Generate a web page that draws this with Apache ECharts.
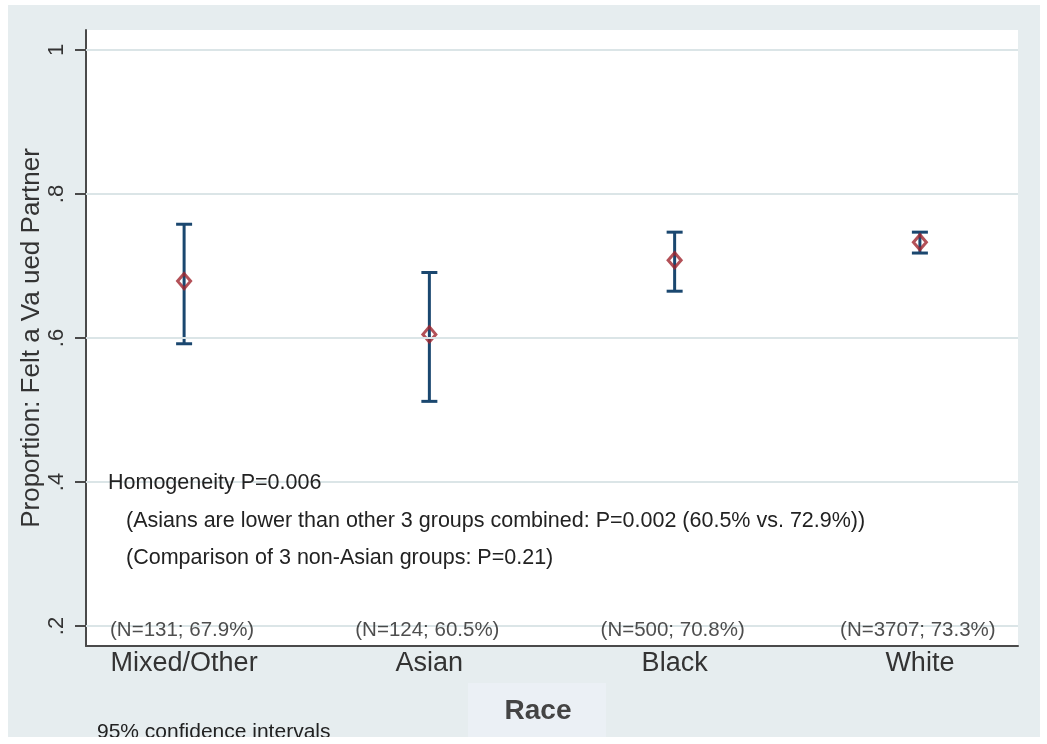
<!DOCTYPE html>
<html><head><meta charset="utf-8">
<script src="https://cdn.jsdelivr.net/npm/echarts@6/dist/echarts.min.js"></script>
<style>
html,body{margin:0;padding:0;background:#fff;width:1047px;height:744px;overflow:hidden}
#c{position:absolute;left:8px;top:5px;width:1032px;height:732px;overflow:hidden}
</style>
</head><body><div id="c"></div>
<script>
const categories = ['Mixed/Other', 'Asian', 'Black', 'White'];
const estimates = [0.679, 0.605, 0.708, 0.733];
const ciLower = [0.592, 0.512, 0.665, 0.718];
const ciUpper = [0.758, 0.691, 0.747, 0.747];
const nLabels = ['(N=131; 67.9%)', '(N=124; 60.5%)', '(N=500; 70.8%)', '(N=3707; 73.3%)'];
const yTickValues = [0.2, 0.4, 0.6, 0.8, 1];
const yTickLabels = ['.2', '.4', '.6', '.8', '1'];
const noteLines = [
  'Homogeneity P=0.006',
  '(Asians are lower than other 3 groups combined: P=0.002 (60.5% vs. 72.9%))',
  '(Comparison of 3 non-Asian groups: P=0.21)'
];
const footNote = '95% confidence intervals';
const xTitle = 'Race';
const yTitle = 'Proportion: Felt a Va ued Partner';

const FONT = '"Liberation Sans", Arial, Helvetica, sans-serif';
const xPos = categories.map((c, i) => i + 1);

const chart = echarts.init(document.getElementById('c'));
const option = {
  backgroundColor: '#e6edef',
  animation: false,
  grid: {
    left: 78, right: 22, top: 25, bottom: 91, show: true,
    backgroundColor: '#ffffff', borderWidth: 0,
    outerBoundsMode: 'none', containLabel: false
  },
  xAxis: {
    type: 'value', min: 0.6, max: 4.4,
    axisLine: { show: true, lineStyle: { color: '#4a4a4a', width: 2 } },
    axisTick: { show: false },
    splitLine: { show: false },
    axisLabel: {
      customValues: xPos,
      formatter: v => categories[Math.round(v) - 1] || '',
      fontFamily: FONT, fontSize: 27, color: '#333', margin: 4
    }
  },
  yAxis: {
    type: 'value', min: 0.2 - 0.2 * 20 / 144, max: 1 + 0.2 * 20 / 144,
    axisLine: { show: true, lineStyle: { color: '#4a4a4a', width: 2 } },
    axisTick: { show: true, customValues: yTickValues, length: 11, lineStyle: { color: '#4a4a4a', width: 2 } },
    splitLine: { show: false },
    axisLabel: {
      customValues: yTickValues,
      formatter: v => yTickLabels[yTickValues.findIndex(t => Math.abs(t - v) < 1e-6)] || '',
      rotate: 90, fontFamily: FONT, fontSize: 22, color: '#333', margin: 18
    },
    name: yTitle, nameLocation: 'middle', nameRotate: 90, nameGap: 41,
    nameMoveOverlap: false,
    nameTextStyle: { fontFamily: FONT, fontSize: 26, color: '#333' }
  },
  graphic: noteLines.map((t, i) => ({
    type: 'text', left: i === 0 ? 100 : 118, top: [467, 505, 542][i], z: 100,
    style: { text: t, font: '21.5px ' + FONT, fill: '#222' }, silent: true
  })).concat([
    {
      type: 'text', left: 89, top: 717, z: 100,
      style: { text: footNote, font: '21px ' + FONT, fill: '#222' }, silent: true
    },
    {
      type: 'rect', left: 460, top: 678, silent: true, z: 100,
      shape: { width: 138, height: 60 },
      style: { fill: '#ebf0f5' }
    },
    {
      type: 'text', x: 530, y: 706, silent: true, z: 101,
      style: { text: xTitle, font: 'bold 28px ' + FONT, fill: '#444', align: 'center', verticalAlign: 'middle' }
    }
  ]),
  series: [
    {
      type: 'line', data: [], silent: true, z: 1,
      markLine: {
        silent: true, symbol: 'none', label: { show: false },
        lineStyle: { color: '#dbe5e7', width: 2, type: 'solid' },
        data: yTickValues.map(v => ({ yAxis: v }))
      }
    },
    {
      type: 'scatter', symbolSize: 0, silent: true, z: 5,
      data: xPos.map((x, i) => [x, yTickValues[0]]),
      label: {
        show: true, position: 'inside', offset: [-2, 4],
        formatter: p => nLabels[p.dataIndex],
        fontFamily: FONT, fontSize: 20.5, color: '#222'
      }
    },
    {
      type: 'custom', z: 3,
      data: xPos.map((x, i) => [x, ciLower[i], ciUpper[i]]),
      renderItem: (params, api) => {
        const x = api.value(0);
        const lo = api.coord([x, api.value(1)]);
        const hi = api.coord([x, api.value(2)]);
        const w = 8;
        const st = { stroke: '#1a476f', lineWidth: 3 };
        return {
          type: 'group', children: [
            { type: 'line', shape: { x1: hi[0], y1: hi[1], x2: lo[0], y2: lo[1] }, style: st },
            { type: 'line', shape: { x1: hi[0] - w, y1: hi[1], x2: hi[0] + w, y2: hi[1] }, style: st },
            { type: 'line', shape: { x1: lo[0] - w, y1: lo[1], x2: lo[0] + w, y2: lo[1] }, style: st }
          ]
        };
      }
    },
    {
      type: 'scatter', symbol: 'diamond', symbolSize: [13, 15], z: 4,
      data: xPos.map((x, i) => [x, estimates[i]]),
      itemStyle: { color: 'rgba(255,255,255,0)', borderColor: '#a0262e', borderWidth: 3 }
    }
  ]
};
chart.setOption(option);
</script>
</body></html>
